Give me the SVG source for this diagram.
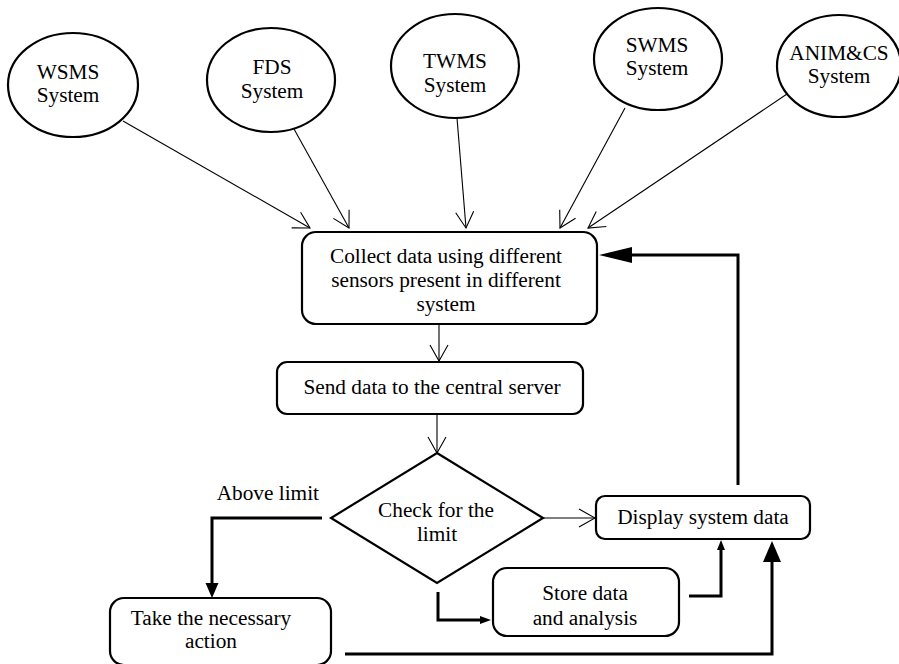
<svg xmlns="http://www.w3.org/2000/svg" width="899" height="664" viewBox="0 0 899 664">
<style>
  .node { fill: #ffffff; stroke: #000000; stroke-width: 2.2; }
  .t { font-size: 21.3px; fill: #000000; text-anchor: middle; }
  .thin { fill: none; stroke: #000000; stroke-width: 1.1; }
  .thick { fill: none; stroke: #000000; stroke-width: 3; }
  .head { fill: #000000; stroke: none; }
</style>
<defs>
  <marker id="open" viewBox="0 0 18 20" refX="17" refY="10" markerWidth="18" markerHeight="20" markerUnits="userSpaceOnUse" orient="auto">
    <path d="M1,1 L17,10 L1,19" fill="none" stroke="#000000" stroke-width="1.1"/>
  </marker>
</defs>
<rect width="899" height="664" fill="#ffffff"/>

<g font-family="'Liberation Serif', 'DejaVu Serif', serif">
<g id="connectors">
  <line class="thin" x1="123" y1="121" x2="310" y2="228" marker-end="url(#open)"/>
  <line class="thin" x1="294" y1="129" x2="349" y2="228" marker-end="url(#open)"/>
  <line class="thin" x1="457" y1="118" x2="466" y2="228" marker-end="url(#open)"/>
  <line class="thin" x1="625" y1="108" x2="560" y2="228" marker-end="url(#open)"/>
  <line class="thin" x1="787" y1="94" x2="588" y2="228" marker-end="url(#open)"/>
  <line class="thin" x1="439" y1="324" x2="439" y2="361" marker-end="url(#open)"/>
  <line class="thin" x1="437" y1="414" x2="437" y2="453" marker-end="url(#open)"/>
  <line class="thin" x1="543" y1="518" x2="595" y2="518" marker-end="url(#open)"/>
  <polyline class="thick" points="738,485 738,255 632,255"/>
  <polygon class="head" points="599,255 632,247 632,263"/>
  <polyline class="thick" points="345,654 772,654 772,561"/>
  <polygon class="head" points="772,541 763,562 781,562"/>
  <polyline class="thick" points="689,596 721,596 721,549"/>
  <polygon class="head" points="721,540 717,550 725,550"/>
  <polyline class="thick" points="438,592 438,620 481,620"/>
  <polygon class="head" points="491,620 480,616 480,624"/>
  <polyline class="thick" points="322,518 212,518 212,584"/>
  <polygon class="head" points="212,598 205.5,583 218.5,583"/>
  <text class="t" x="319" y="500" text-anchor="end" style="text-anchor:end">Above limit</text>
</g>

<g id="wsms">
  <ellipse class="node" cx="73" cy="85" rx="65" ry="52"/>
  <text class="t" x="68" y="79">WSMS</text>
  <text class="t" x="68" y="102">System</text>
</g>
<g id="fds">
  <ellipse class="node" cx="271" cy="80" rx="64" ry="52"/>
  <text class="t" x="272" y="74">FDS</text>
  <text class="t" x="272" y="98">System</text>
</g>
<g id="twms">
  <ellipse class="node" cx="455" cy="66" rx="64" ry="52"/>
  <text class="t" x="455" y="68">TWMS</text>
  <text class="t" x="455" y="92">System</text>
</g>
<g id="swms">
  <ellipse class="node" cx="658" cy="59" rx="64" ry="51"/>
  <text class="t" x="657" y="52">SWMS</text>
  <text class="t" x="657" y="75">System</text>
</g>
<g id="animcs">
  <ellipse class="node" cx="839" cy="66" rx="62" ry="51"/>
  <text class="t" x="839" y="60">ANIM&amp;CS</text>
  <text class="t" x="839" y="83">System</text>
</g>

<g id="collect">
  <rect class="node" x="302" y="232" width="295" height="92" rx="14"/>
  <text class="t" x="446" y="263">Collect data using different</text>
  <text class="t" x="446" y="287">sensors present in different</text>
  <text class="t" x="446" y="311">system</text>
</g>
<g id="send">
  <rect class="node" x="277" y="362" width="306" height="52" rx="10"/>
  <text class="t" x="432" y="394">Send data to the central server</text>
</g>
<g id="check">
  <polygon class="node" points="437,453 543,518 437,583 331,518"/>
  <text class="t" x="436" y="517">Check for the</text>
  <text class="t" x="437" y="541">limit</text>
</g>
<g id="display">
  <rect class="node" x="596" y="496" width="214" height="43" rx="9"/>
  <text class="t" x="703" y="524">Display system data</text>
</g>
<g id="store">
  <rect class="node" x="493" y="568" width="186" height="68" rx="14"/>
  <text class="t" x="585" y="600">Store data</text>
  <text class="t" x="585" y="625">and analysis</text>
</g>
<g id="action">
  <rect class="node" x="110" y="598" width="221" height="67" rx="14"/>
  <text class="t" x="211" y="625">Take the necessary</text>
  <text class="t" x="211" y="648">action</text>
</g>
</g>
</svg>
